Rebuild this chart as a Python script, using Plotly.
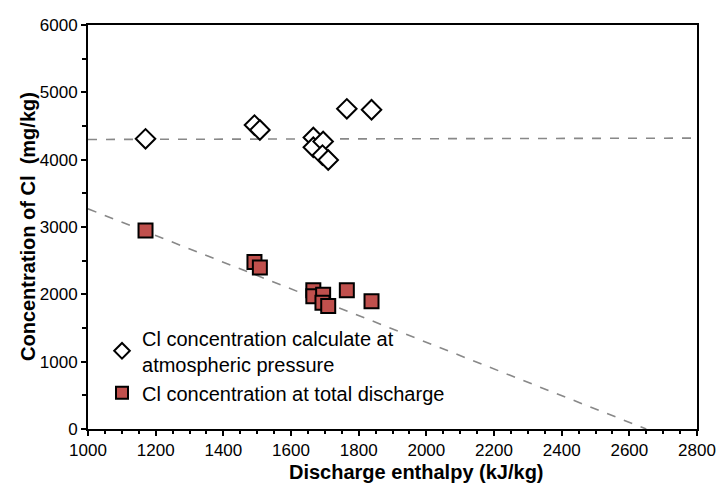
import plotly.graph_objects as go

# Discharge enthalpy (kJ/kg)
enthalpy = [1170, 1492, 1508, 1666, 1666, 1695, 1693, 1710, 1765, 1838]
# Cl concentration at atmospheric pressure (mg/kg)
cl_atm = [4310, 4514, 4441, 4330, 4184, 4271, 4068, 3995, 4755, 4741]
# Cl concentration at total discharge (mg/kg)
cl_total = [2949, 2480, 2397, 2059, 1972, 1995, 1874, 1826, 2059, 1899]

# Trend lines
trend_atm_x = [1000, 2800]
trend_atm_y = [4300, 4320]
trend_tot_x = [1000, 2650]
trend_tot_y = [3270, 0]

fig = go.Figure()
fig.add_trace(go.Scatter(x=trend_atm_x, y=trend_atm_y, mode="lines",
                         line=dict(color="#888888", width=1.6, dash="dash"),
                         showlegend=False, hoverinfo="skip"))
fig.add_trace(go.Scatter(x=trend_tot_x, y=trend_tot_y, mode="lines",
                         line=dict(color="#888888", width=1.6, dash="dash"),
                         showlegend=False, hoverinfo="skip"))
fig.add_trace(go.Scatter(x=enthalpy, y=cl_atm, mode="markers",
                         name="Cl concentration calculate at<br>atmospheric pressure",
                         marker=dict(symbol="diamond", size=15, color="white",
                                     line=dict(color="black", width=2))))
fig.add_trace(go.Scatter(x=enthalpy, y=cl_total, mode="markers",
                         name="Cl concentration at total discharge",
                         marker=dict(symbol="square", size=14, color="#C0504D",
                                     line=dict(color="black", width=2))))

fig.add_annotation(text="<b>Discharge enthalpy (kJ/kg)</b>", xref="paper", yref="paper",
                   x=0.54, y=0, xanchor="center", yanchor="middle", yshift=-43,
                   showarrow=False, font=dict(size=20))
fig.add_annotation(text="<b>Concentration of Cl  (mg/kg)</b>", xref="paper", yref="paper",
                   x=0, y=0.5, xanchor="center", yanchor="middle", xshift=-60,
                   textangle=-90, showarrow=False, font=dict(size=20))

fig.update_layout(
    width=728, height=493,
    margin=dict(l=80, r=39, t=8, b=72),
    plot_bgcolor="white", paper_bgcolor="white",
    font=dict(family="Liberation Sans, Arial", size=17, color="black"),
    legend=dict(x=0.023, y=0.274, xanchor="left", yanchor="top",
                bgcolor="rgba(0,0,0,0)", font=dict(size=20),
                itemsizing="constant", tracegroupgap=2, itemwidth=30),
    xaxis=dict(range=[1000, 2800], dtick=200, showgrid=False, zeroline=False,
               showline=True, linecolor="black", linewidth=2, mirror=True,
               ticks="outside", ticklen=5, tickwidth=1.5, tickcolor="black",
               minor=dict(dtick=50, ticks="outside", ticklen=3, tickcolor="black")),
    yaxis=dict(range=[0, 6000], dtick=1000, showgrid=False, zeroline=False,
               showline=True, linecolor="black", linewidth=2, mirror=True,
               ticks="outside", ticklen=5, tickwidth=1.5, tickcolor="black",
               minor=dict(dtick=500, ticks="outside", ticklen=4, tickcolor="black")),
)

fig.write_html("out.html")
